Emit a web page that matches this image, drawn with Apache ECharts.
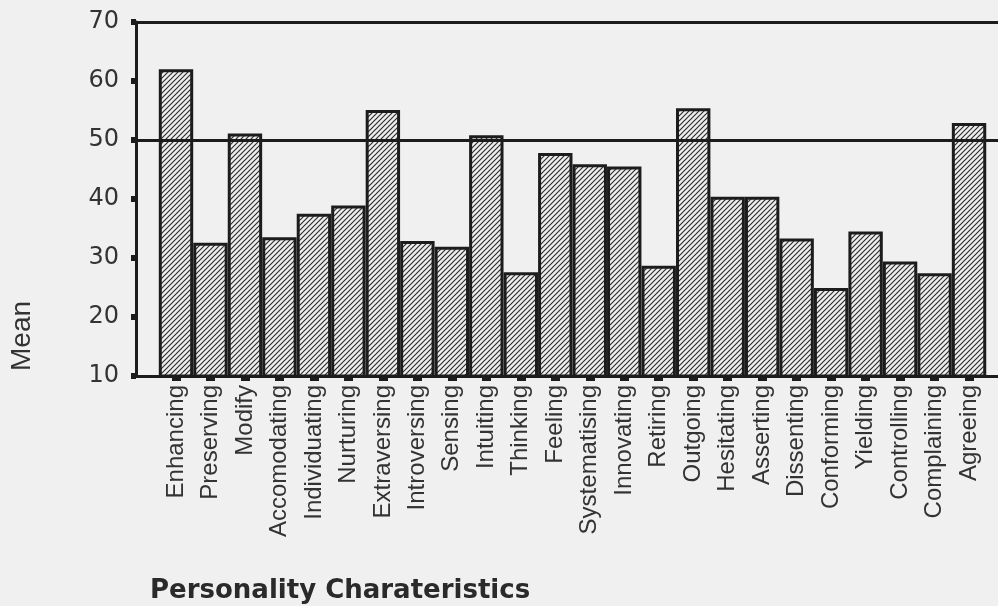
<!DOCTYPE html>
<html>
<head>
<meta charset="utf-8">
<script src="https://cdn.jsdelivr.net/npm/echarts@6/dist/echarts.min.js"></script>
<style>
  html, body { margin: 0; padding: 0; background: #f0f0f0; }
  #chart { width: 998px; height: 606px; }
</style>
</head>
<body>
<div id="chart"></div>
<script>
const categories = [
  'Enhancing', 'Preserving', 'Modify', 'Accomodating', 'Individuating', 'Nurturing',
  'Extraversing', 'Introversing', 'Sensing', 'Intuiting', 'Thinking', 'Feeling',
  'Systematising', 'Innovating', 'Retiring', 'Outgoing', 'Hesitating', 'Asserting',
  'Dissenting', 'Conforming', 'Yielding', 'Controlling', 'Complaining', 'Agreeing'
];
const means = [
  62.0, 32.6, 51.1, 33.5, 37.5, 38.9,
  55.1, 32.9, 31.9, 50.8, 27.6, 47.8,
  45.9, 45.5, 28.7, 55.4, 40.4, 40.4,
  33.3, 24.9, 34.5, 29.4, 27.4, 52.9
];
const yTicks = [10, 20, 30, 40, 50, 60, 70];
const refLines = [50, 70];

// diagonal "////" hatch fill
function hatch() {
  const s = 5;
  const c = document.createElement('canvas');
  c.width = s; c.height = s;
  const ctx = c.getContext('2d');
  ctx.fillStyle = '#eeeeee';
  ctx.fillRect(0, 0, s, s);
  ctx.strokeStyle = '#2e2e2e';
  ctx.lineWidth = 1.2;
  ctx.beginPath();
  ctx.moveTo(-1, s + 1); ctx.lineTo(s + 1, -1);
  ctx.moveTo(-1, 1); ctx.lineTo(1, -1);
  ctx.moveTo(s - 1, s + 1); ctx.lineTo(s + 1, s - 1);
  ctx.stroke();
  return c;
}

const ink = '#1c1c1c';
const labelFont = '"Liberation Sans", Arial, sans-serif';
const wideFont = '"DejaVu Sans", sans-serif';
const idx = categories.map((_, i) => i);

const chart = echarts.init(document.getElementById('chart'), null, { renderer: 'canvas' });

chart.setOption({
  backgroundColor: '#f0f0f0',
  animation: false,
  grid: { left: 136, right: 0, top: 22, bottom: 230 },
  xAxis: {
    type: 'value',
    min: -1.16,
    max: 23.84,
    axisLine: { show: true, onZero: false, lineStyle: { color: ink, width: 3 } },
    axisTick: { show: true, customValues: idx, length: 5, lineStyle: { color: ink, width: 9 } },
    axisLabel: {
      customValues: idx,
      rotate: 90,
      margin: 9,
      color: '#333',
      fontSize: 24,
      fontFamily: labelFont,
      formatter: (v) => categories[Math.round(v)]
    },
    splitLine: { show: false }
  },
  yAxis: {
    type: 'value',
    min: yTicks[0],
    max: yTicks[yTicks.length - 1],
    interval: 10,
    axisLine: { show: true, onZero: false, lineStyle: { color: ink, width: 3 } },
    axisTick: { show: true, length: 5, lineStyle: { color: ink, width: 6 } },
    axisLabel: { color: '#333', fontSize: 24, fontFamily: wideFont, margin: 17 },
    splitLine: { show: false }
  },
  graphic: [
    {
      type: 'text',
      x: 22, y: 336,
      rotation: Math.PI / 2,
      style: {
        text: 'Mean', fontSize: 28, fontFamily: labelFont, fill: '#333',
        textAlign: 'center', textVerticalAlign: 'middle'
      }
    },
    {
      type: 'text',
      x: 150, y: 591,
      style: {
        text: 'Personality Charateristics', fontSize: 26, fontWeight: 'bold',
        fontFamily: wideFont, fill: '#2a2a2a', textVerticalAlign: 'middle'
      }
    }
  ],
  series: [{
    type: 'bar',
    data: means.map((v, i) => [i, v]),
    barWidth: 34.4,
    itemStyle: {
      color: { image: hatch(), repeat: 'repeat' },
      borderColor: ink,
      borderWidth: 3
    },
    markLine: {
      silent: true,
      symbol: 'none',
      label: { show: false },
      lineStyle: { color: ink, width: 3, type: 'solid' },
      data: refLines.map((v) => ({ yAxis: v }))
    }
  }]
});
</script>
</body>
</html>
